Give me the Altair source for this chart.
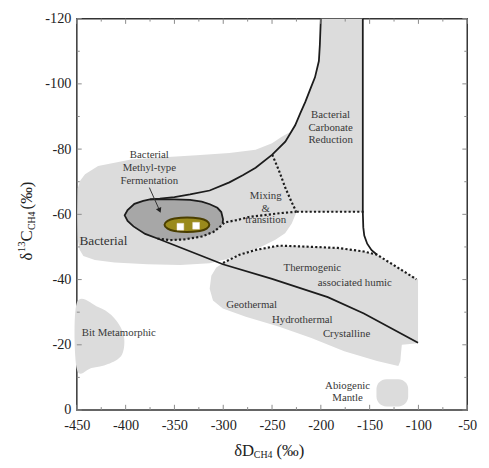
import altair as alt
import pandas as pd

# ---------------- axis ticks ----------------
x_major = [-450, -400, -350, -300, -250, -200, -150, -100, -50]
x_minor = [-425, -375, -325, -275, -225, -175, -125, -75]
y_major = [-120, -100, -80, -60, -40, -20, 0]
y_minor = [-110, -90, -70, -50, -30, -10]

# ---------------- filled regions (dD, d13C) ----------------
# Bacterial + Bacterial Carbonate Reduction field
bact_x = [-200, -157, -157, -224.8, -229.8, -236.6, -246.6, -260, -276.9, -297, -313.9,
          -344.1, -377.7, -411.3, -431.5, -443.3, -447.3, -449, -449.5, -449, -446.6,
          -441.6, -428.2, -394.5, -360.9, -327.3, -293.7, -266.8, -250, -240, -230,
          -226.3, -221, -216, -210, -206, -202, -201]
bact_y = [-120, -120, -60.8, -60.8, -57.2, -54.2, -52.2, -50.2, -48.2, -46.2, -45,
          -44.5, -44.7, -45.2, -46, -47.2, -49.2, -52.2, -60, -68, -70.3,
          -72.3, -74.8, -76.8, -77.5, -78.1, -78.8, -79.8, -81.8, -83.8, -85.5,
          -87.3, -91, -94.4, -99, -102, -107, -112]

# Thermogenic / Geothermal field
thermo_x = [-300.2, -283.4, -266.6, -243.1, -216.2, -182.7, -155.8, -142.4, -128.9, -115.5,
            -100.4, -100.4, -117, -118, -118.5, -120.6, -142.4, -176, -209.7, -243.3,
            -276.9, -300.4, -310.5, -313.9, -312.2, -307.1]
thermo_y = [-45.1, -47.6, -49.1, -50.4, -50.1, -49.7, -48.6, -47.6, -45.1, -42.6,
            -40.1, -20.5, -20, -17, -15, -13.5, -15, -18, -22.1, -25.6,
            -28.6, -31.1, -33.6, -37.2, -41.2, -43.7]

# Bit Metamorphic field
meta_x = [-450, -428.2, -414.7, -404.6, -401.3, -404.6, -418.1, -434.9, -450]
meta_y = [-32.9, -31.6, -29.1, -25.1, -21.1, -16.6, -14.1, -12.85, -12.55]

# Bacterial Methyl-type Fermentation field
methyl_x = [-401, -398, -391, -382, -370, -350, -334, -322, -313.7, -306, -302, -300.2,
            -302, -310, -322, -340, -355, -367.4, -380, -392, -398]
methyl_y = [-59.7, -61.3, -63.2, -64.1, -64.5, -64.6, -64.4, -63.9, -63.1, -62, -60.7, -58.5,
            -56.5, -54.6, -53.2, -52.3, -52.1, -52.6, -54, -56.3, -58]

# Samples field (olive ellipse)
core_x = [-360.2, -357, -350, -337, -324, -317, -314.2, -317, -324, -337, -350, -357]
core_y = [-56.8, -58.0, -58.7, -59.05, -58.7, -58.0, -56.8, -55.6, -54.9, -54.55, -54.9, -55.6]

# Abiogenic Mantle field
abio_x = [-143]
abio_x2 = [-110.5]
abio_y = [-9.45]
abio_y2 = [-1.1]

# sample points
sample_x = [-343.9, -327.8]
sample_y = [-56.2, -56.5]

# ---------------- boundary lines ----------------
lineA_x = [-200, -201, -202, -206, -210, -216, -221, -226.3, -236.4, -249.8, -266.8, -280,
           -293.7, -313.9, -334, -350, -365, -375, -382, -391, -398, -401, -398, -392,
           -380, -367.4, -300.4, -250, -192.9, -155.9, -100.4]
lineA_y = [-120, -112, -107, -102, -99, -94.4, -91, -87.3, -82.3, -78.3, -74.3, -72,
           -69.8, -67.3, -66.1, -65.3, -64.8, -64.6, -64.1, -63.2, -61.3, -59.7, -58, -56.3,
           -54, -52.6, -44.7, -40.2, -34.6, -29.6, -20.6]

methyl_top_x = [-375, -350, -334, -322, -313.7, -306, -302, -300.2, -300.6]
methyl_top_y = [-64.6, -64.6, -64.4, -63.9, -63.1, -62, -60.7, -58.5, -57.3]

lineB_x = [-157, -157, -156.5, -155.5, -152.5, -148, -142.4]
lineB_y = [-120, -60.8, -56, -53.5, -51, -49, -47.6]

d1_x = [-249.8, -243, -236.6, -230, -225.5]
d1_y = [-78.3, -73.5, -68.3, -63.8, -61]
d2_x = [-224.8, -154]
d2_y = [-60.8, -60.8]
d3_x = [-367.4, -355, -340, -322, -310, -302, -298.7, -285, -273.5, -260, -240, -224.8]
d3_y = [-52.6, -52.1, -52.3, -53.2, -54.6, -56.5, -57.5, -58.3, -59.2, -59.7, -60.4, -60.8]
d4_x = [-300.2, -283.4, -266.6, -243.1, -216.2, -182.7, -155.8, -142.4, -128.9, -115.5, -102.1]
d4_y = [-45.1, -47.6, -49.1, -50.4, -50.1, -49.7, -48.6, -47.6, -45.1, -42.6, -40.1]

arrow_x = [-375.7, -365.2]
arrow_y = [-68.2, -61.2]

# ---------------- labels ----------------
lab_text = ["Bacterial", "Methyl-type", "Fermentation", "Mixing", "&", "transition",
            "Bacterial", "Carbonate", "Reduction", "Thermogenic", "associated humic",
            "Geothermal", "Hydrothermal", "Crystalline", "Bit Metamorphic",
            "Abiogenic", "Mantle"]
lab_x = [-375.7, -375.7, -375.7, -256.5, -256.5, -256.5, -190, -190, -190, -208.7, -165.2,
         -270.9, -219, -173.6, -407, -172.6, -172.6]
lab_y = [-78.1, -74.3, -70.25, -65.7, -61.7, -58.2, -90.4, -86.5, -82.8, -43.6, -38.8,
         -32.05, -27.7, -23.2, -23.7, -7.45, -3.7]
big_label = ["Bacterial"]
big_x = [-422.8]
big_y = [-51.65]

FONT = "Liberation Serif"
LIGHT = "#dcdcdc"
INK = "#1c1c1c"

xs = alt.Scale(domain=[-450, -50], nice=False, zero=False)
ys = alt.Scale(domain=[-120, 0], nice=False, zero=False, reverse=True)
xaxis = alt.Axis(values=x_major, labelExpr="'' + datum.value", ticks=False, domain=False,
                 grid=False, title=None, labelFont=FONT, labelFontSize=14.5,
                 labelColor="#222", labelPadding=9, labelFlush=False)
yaxis = alt.Axis(values=y_major, labelExpr="'' + datum.value", ticks=False, domain=False,
                 grid=False, title=None, labelFont=FONT, labelFontSize=14.5,
                 labelColor="#222", labelPadding=6)


def X(f="x"):
    return alt.X(f + ":Q", scale=xs, axis=xaxis)


def Y(f="y"):
    return alt.Y(f + ":Q", scale=ys, axis=yaxis)


def df(xv, yv):
    return pd.DataFrame({"x": xv, "y": yv, "i": list(range(len(xv)))})


def poly(xv, yv, fill, interp="linear-closed", stroke=None, sw=0):
    kw = dict(fill=fill, interpolate=interp, strokeWidth=sw)
    kw["stroke"] = stroke if stroke else fill
    return alt.Chart(df(xv, yv)).mark_line(**kw).encode(x=X(), y=Y(), order="i:Q")


def line(xv, yv, dash=None, width=1.8, color=INK):
    kw = dict(color=color, strokeWidth=width)
    if dash:
        kw["strokeDash"] = dash
    return alt.Chart(df(xv, yv)).mark_line(**kw).encode(x=X(), y=Y(), order="i:Q")


layers = []
layers.append(poly(bact_x, bact_y, LIGHT))
layers.append(poly(thermo_x, thermo_y, LIGHT))
layers.append(poly(meta_x, meta_y, LIGHT, interp="cardinal-closed"))
layers.append(
    alt.Chart(pd.DataFrame({"x": abio_x, "x2": abio_x2, "y": abio_y, "y2": abio_y2}))
    .mark_rect(color=LIGHT, cornerRadius=10)
    .encode(x=X(), x2="x2:Q", y=Y(), y2="y2:Q")
)
layers.append(poly(methyl_x, methyl_y, "#a7a7a7", interp="cardinal-closed"))
layers.append(poly(core_x, core_y, "#9a8a1c", interp="cardinal-closed", stroke="#4a3e00", sw=2))
layers.append(
    alt.Chart(pd.DataFrame({"x": sample_x, "y": sample_y}))
    .mark_square(size=48, color="#ffffff", opacity=1, stroke="#f0e4dc", strokeWidth=0.5)
    .encode(x=X(), y=Y())
)

# boundaries
layers.append(line(lineA_x, lineA_y))
layers.append(line(methyl_top_x, methyl_top_y))
layers.append(line(lineB_x, lineB_y))
for dx_, dy_ in [(d1_x, d1_y), (d2_x, d2_y), (d3_x, d3_y), (d4_x, d4_y)]:
    layers.append(line(dx_, dy_, dash=[2.2, 2.2], width=2.2))

# arrow
layers.append(line(arrow_x, arrow_y, width=1, color="#333"))
layers.append(
    alt.Chart(pd.DataFrame({"x": [arrow_x[1]], "y": [arrow_y[1]]}))
    .mark_point(shape="triangle-down", angle=336, size=35, filled=True, color="#222", opacity=1)
    .encode(x=X(), y=Y())
)

# labels
layers.append(
    alt.Chart(pd.DataFrame({"x": lab_x, "y": lab_y, "t": lab_text}))
    .mark_text(font=FONT, fontSize=11, color="#383838", baseline="middle", align="center")
    .encode(x=X(), y=Y(), text="t:N")
)
layers.append(
    alt.Chart(pd.DataFrame({"x": big_x, "y": big_y, "t": big_label}))
    .mark_text(font=FONT, fontSize=13.5, color="#333", baseline="middle", align="center")
    .encode(x=X(), y=Y(), text="t:N")
)

# inward ticks
L_maj_y, L_min_y = 1.6, 0.9   # in d13C units
L_maj_x, L_min_x = 5.0, 3.0   # in dD units
rows = []
for t in x_major:
    rows += [(t, t, 0, -L_maj_y), (t, t, -120, -120 + L_maj_y)]
for t in x_minor:
    rows += [(t, t, 0, -L_min_y), (t, t, -120, -120 + L_min_y)]
for t in y_major:
    rows += [(-450, -450 + L_maj_x, t, t), (-50, -50 - L_maj_x, t, t)]
for t in y_minor:
    rows += [(-450, -450 + L_min_x, t, t), (-50, -50 - L_min_x, t, t)]
ticks = pd.DataFrame(rows, columns=["x", "x2", "y", "y2"])
layers.append(
    alt.Chart(ticks).mark_rule(color="#8a8a8a", strokeWidth=1)
    .encode(x=X(), x2="x2:Q", y=Y(), y2="y2:Q")
)

# axis titles (with sub/superscripts)
xt = pd.DataFrame({"t": ["δD", "CH4", "(‰)"], "px": [160, 180, 203], "py": [445, 447, 445],
                   "fs": [17, 10, 17]})
for _, r in xt.iterrows():
    layers.append(
        alt.Chart(pd.DataFrame({"t": [r.t]})).mark_text(
            font=FONT, fontSize=float(r.fs), color="#222", align="left", baseline="alphabetic"
        ).encode(x=alt.value(float(r.px)), y=alt.value(float(r.py)), text="t:N")
    )
yt = pd.DataFrame({"t": ["δ", "13", "C", "CH4", "(‰)"],
                   "px": [-46, -52.5, -46, -43, -46],
                   "py": [246, 237.5, 226.5, 215, 194],
                   "fs": [17, 11, 17, 10, 17]})
for _, r in yt.iterrows():
    layers.append(
        alt.Chart(pd.DataFrame({"t": [r.t]})).mark_text(
            font=FONT, fontSize=float(r.fs), color="#222", align="left", baseline="alphabetic",
            angle=270
        ).encode(x=alt.value(float(r.px)), y=alt.value(float(r.py)), text="t:N")
    )

chart = (
    alt.layer(*layers)
    .properties(width=397, height=398, autosize=alt.AutoSizeParams(type="none"),
                padding={"left": 70, "top": 7, "right": 14, "bottom": 47})
    .configure_view(stroke="#333", strokeWidth=1.5)
)

chart.save("out.html", embed_options={"renderer": "svg", "actions": False})
